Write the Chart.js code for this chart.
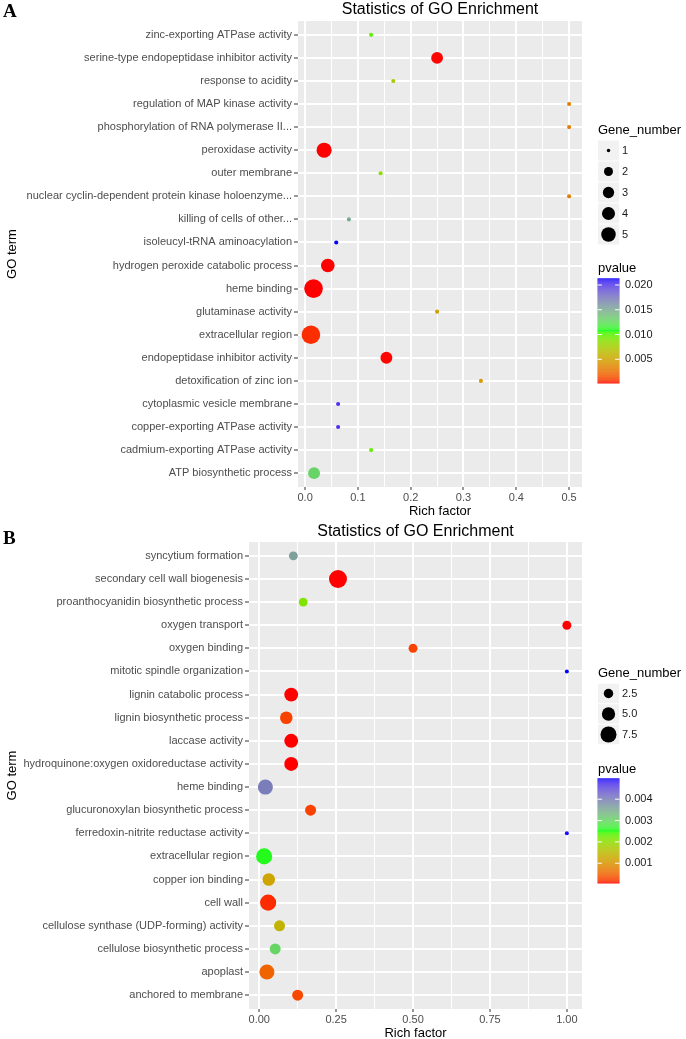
<!DOCTYPE html>
<html>
<head>
<meta charset="utf-8">
<script src="https://cdn.jsdelivr.net/npm/chart.js@4.4.1/dist/chart.umd.min.js"></script>
<style>
html, body { margin: 0; padding: 0; background: #fff; overflow: hidden; }
#wrap { position: relative; width: 686px; height: 1039px; overflow: hidden; }
canvas { position: absolute; left: 0; }
#chartA { top: 0; }
#chartB { top: 510px; }
</style>
</head>
<body>
<div id="wrap">
<canvas id="chartA" width="686" height="520"></canvas>
<canvas id="chartB" width="686" height="532"></canvas>
</div>
<script>
// ---- panel A data (rows listed top to bottom) ----
var termsA = [
    'zinc-exporting ATPase activity',
    'serine-type endopeptidase inhibitor activity',
    'response to acidity',
    'regulation of MAP kinase activity',
    'phosphorylation of RNA polymerase II...',
    'peroxidase activity',
    'outer membrane',
    'nuclear cyclin-dependent protein kinase holoenzyme...',
    'killing of cells of other...',
    'isoleucyl-tRNA aminoacylation',
    'hydrogen peroxide catabolic process',
    'heme binding',
    'glutaminase activity',
    'extracellular region',
    'endopeptidase inhibitor activity',
    'detoxification of zinc ion',
    'cytoplasmic vesicle membrane',
    'copper-exporting ATPase activity',
    'cadmium-exporting ATPase activity',
    'ATP biosynthetic process'
];
var richA = [0.125, 0.25, 0.167, 0.5, 0.5, 0.036, 0.143, 0.5, 0.083, 0.059,
             0.043, 0.016, 0.25, 0.011, 0.154, 0.333, 0.0625, 0.0625, 0.125, 0.017];
var genesA = [1, 3, 1, 1, 1, 5, 1, 1, 1, 1,
              4, 8, 1, 8, 3, 1, 1, 1, 1, 3];
var pvalA = [0.0097, 0.00018, 0.0071, 0.0031, 0.0031, 0.00016, 0.0086, 0.0031, 0.0150, 0.02135,
             0.00016, 0.00016, 0.0049, 0.0006, 0.00018, 0.0044, 0.0203, 0.0203, 0.0097, 0.0129];
var xTicksA = [0, 0.1, 0.2, 0.3, 0.4, 0.5];
var xLabelsA = ['0.0', '0.1', '0.2', '0.3', '0.4', '0.5'];
var sizeBreaksA = [1, 2, 3, 4, 5];
var sizeLabelsA = ['1', '2', '3', '4', '5'];
var pBreaksA = [0.005, 0.010, 0.015, 0.020];
var pLabelsA = ['0.005', '0.010', '0.015', '0.020'];

// ---- panel B data ----
var termsB = [
    'syncytium formation',
    'secondary cell wall biogenesis',
    'proanthocyanidin biosynthetic process',
    'oxygen transport',
    'oxygen binding',
    'mitotic spindle organization',
    'lignin catabolic process',
    'lignin biosynthetic process',
    'laccase activity',
    'hydroquinone:oxygen oxidoreductase activity',
    'heme binding',
    'glucuronoxylan biosynthetic process',
    'ferredoxin-nitrite reductase activity',
    'extracellular region',
    'copper ion binding',
    'cell wall',
    'cellulose synthase (UDP-forming) activity',
    'cellulose biosynthetic process',
    'apoplast',
    'anchored to membrane'
];
var richB = [0.111, 0.256, 0.143, 1.0, 0.5, 1.0, 0.104, 0.088, 0.104, 0.104,
             0.020, 0.167, 1.0, 0.016, 0.031, 0.029, 0.066, 0.052, 0.025, 0.125];
var genesB = [2, 9, 2, 2, 2, 1, 5, 4, 5, 5,
              6, 3, 1, 7, 4, 7, 3, 3, 6, 3];
var pvalB = [0.0036, 0.00006, 0.0021, 0.00006, 0.00025, 0.00498, 0.00006, 0.00025, 0.00006, 0.00006,
             0.0040, 0.00025, 0.00495, 0.00257, 0.0012, 0.00015, 0.0014, 0.0030, 0.0005, 0.0003];
var xTicksB = [0, 0.25, 0.5, 0.75, 1.0];
var xLabelsB = ['0.00', '0.25', '0.50', '0.75', '1.00'];
var sizeBreaksB = [2.5, 5.0, 7.5];
var sizeLabelsB = ['2.5', '5.0', '7.5'];
var pBreaksB = [0.001, 0.002, 0.003, 0.004];
var pLabelsB = ['0.001', '0.002', '0.003', '0.004'];

Chart.defaults.font.family = '"Liberation Sans", Arial, sans-serif';
Chart.defaults.color = '#4D4D4D';
Chart.defaults.animation = false;

var SANS = '"Liberation Sans", Arial, sans-serif';

// red -> green -> blue ramp interpolated in CIELAB, like ggplot's gradientn
function toLin(c) { c /= 255; return c <= 0.04045 ? c / 12.92 : Math.pow((c + 0.055) / 1.055, 2.4); }
function fromLin(c) {
    c = c <= 0.0031308 ? 12.92 * c : 1.055 * Math.pow(Math.max(c, 0), 1 / 2.4) - 0.055;
    return Math.round(Math.max(0, Math.min(1, c)) * 255);
}
function rgbToLab(r, g, b) {
    var R = toLin(r), G = toLin(g), B = toLin(b);
    var X = (R * 0.4124 + G * 0.3576 + B * 0.1805) / 0.95047;
    var Y = R * 0.2126 + G * 0.7152 + B * 0.0722;
    var Z = (R * 0.0193 + G * 0.1192 + B * 0.9505) / 1.08883;
    function f(t) { return t > 0.008856 ? Math.cbrt(t) : 7.787 * t + 16 / 116; }
    var fx = f(X), fy = f(Y), fz = f(Z);
    return [116 * fy - 16, 500 * (fx - fy), 200 * (fy - fz)];
}
function labToRgb(L, a, b) {
    var fy = (L + 16) / 116, fx = fy + a / 500, fz = fy - b / 200;
    function fi(t) { var t3 = t * t * t; return t3 > 0.008856 ? t3 : (t - 16 / 116) / 7.787; }
    var X = fi(fx) * 0.95047, Y = fi(fy), Z = fi(fz) * 1.08883;
    var R = 3.2406 * X - 1.5372 * Y - 0.4986 * Z;
    var G = -0.9689 * X + 1.8758 * Y + 0.0415 * Z;
    var B = 0.0557 * X - 0.2040 * Y + 1.0570 * Z;
    return 'rgb(' + fromLin(R) + ',' + fromLin(G) + ',' + fromLin(B) + ')';
}
var rampStops = [rgbToLab(255, 0, 0), rgbToLab(0, 255, 0), rgbToLab(0, 0, 255)];
function ramp(t) {
    t = Math.max(0, Math.min(1, t));
    var s = t < 0.5 ? 0 : 1;
    var f = t < 0.5 ? t * 2 : (t - 0.5) * 2;
    var a = rampStops[s], b = rampStops[s + 1];
    return labToRgb(a[0] + (b[0] - a[0]) * f, a[1] + (b[1] - a[1]) * f, a[2] + (b[2] - a[2]) * f);
}

function makePanel(canvasId, p) {
    var pMin = Math.min.apply(null, p.pvals), pMax = Math.max.apply(null, p.pvals);
    var colorOf = function (v) { return ramp((v - pMin) / (pMax - pMin)); };
    var radiusOf = function (g) {
        var size = 1 + 5 * Math.sqrt(Math.max(0, (g - p.sizeLo) / (p.sizeHi - p.sizeLo)));
        return (p.k * size + p.c) / 2;
    };
    var xLo = Math.min.apply(null, p.rich), xHi = Math.max.apply(null, p.rich);
    var xPad = (xHi - xLo) * 0.05;
    var minors = [];
    for (var i = 0; i < p.xTicks.length - 1; i++) minors.push((p.xTicks[i] + p.xTicks[i + 1]) / 2);
    var gridVals = p.xTicks.concat(minors);
    var majorIdx = function (v) {
        for (var j = 0; j < p.xTicks.length; j++) if (Math.abs(p.xTicks[j] - v) < 1e-9) return j;
        return -1;
    };

    var panelDecor = {
        id: 'panelDecor',
        beforeDraw: function (chart) {
            var ctx = chart.ctx, ca = chart.chartArea;
            ctx.save();
            ctx.fillStyle = '#EBEBEB';
            ctx.fillRect(ca.left, ca.top, ca.right - ca.left, ca.bottom - ca.top);
            ctx.restore();
        },
        afterDraw: function (chart) {
            var ctx = chart.ctx, ca = chart.chartArea;
            ctx.save();
            ctx.fillStyle = '#000';
            ctx.textAlign = 'center';
            ctx.textBaseline = 'alphabetic';
            ctx.font = '16px ' + SANS;
            ctx.fillText('Statistics of GO Enrichment', (ca.left + ca.right) / 2, p.titleY);

            ctx.textAlign = 'left';
            ctx.font = 'bold 19px "Liberation Serif", "Times New Roman", serif';
            ctx.fillText(p.letter, 3, p.letterY);

            // size legend
            ctx.font = '13px ' + SANS;
            ctx.fillText('Gene_number', 598, p.sizeTitleY);
            p.sizeBreaks.forEach(function (g, i) {
                var cy = p.keyY0 + i * p.keyStep;
                ctx.fillStyle = '#F2F2F2';
                ctx.fillRect(598, cy - p.keyStep / 2 + 0.5, 21, p.keyStep - 1);
                ctx.fillStyle = '#000';
                ctx.beginPath();
                ctx.arc(608.5, cy, radiusOf(g) - 0.3, 0, Math.PI * 2);
                ctx.fill();
                ctx.fillStyle = '#1A1A1A';
                ctx.font = '11px ' + SANS;
                ctx.textBaseline = 'middle';
                ctx.fillText(p.sizeLabels[i], 622, cy);
                ctx.textBaseline = 'alphabetic';
            });

            // colour bar
            ctx.fillStyle = '#000';
            ctx.font = '13px ' + SANS;
            ctx.fillText('pvalue', 598, p.pTitleY);
            var bx = 597.5, bw = 22, bTop = p.barTop, bH = 105;
            for (var y = 0; y < bH; y++) {
                var v = pMax - (y + 0.5) / bH * (pMax - pMin);
                ctx.fillStyle = colorOf(v);
                ctx.fillRect(bx, bTop + y, bw, 1.2);
            }
            ctx.strokeStyle = '#FFFFFF';
            ctx.lineWidth = 1;
            ctx.font = '11px ' + SANS;
            ctx.textBaseline = 'middle';
            p.pBreaks.forEach(function (v, i) {
                var yy = bTop + bH - (v - pMin) / (pMax - pMin) * bH;
                ctx.beginPath();
                ctx.moveTo(bx, yy); ctx.lineTo(bx + 4.4, yy);
                ctx.moveTo(bx + bw - 4.4, yy); ctx.lineTo(bx + bw, yy);
                ctx.stroke();
                ctx.fillStyle = '#1A1A1A';
                ctx.fillText(p.pLabels[i], 625, yy);
            });
            ctx.restore();
        }
    };

    return new Chart(document.getElementById(canvasId), {
        type: 'bubble',
        data: {
            datasets: [{
                data: p.terms.map(function (t, i) {
                    return { x: p.rich[i], y: i, r: radiusOf(p.genes[i]) };
                }),
                backgroundColor: p.pvals.map(colorOf),
                borderWidth: 0,
                hoverBorderWidth: 0
            }]
        },
        options: {
            responsive: false,
            devicePixelRatio: 1,
            events: [],
            layout: { padding: { left: 0, right: 104, top: p.plotTop, bottom: 0 } },
            plugins: { legend: { display: false }, tooltip: { enabled: false } },
            scales: {
                x: {
                    type: 'linear',
                    min: xLo - xPad,
                    max: xHi + xPad,
                    afterBuildTicks: function (s) { s.ticks = gridVals.map(function (v) { return { value: v }; }); },
                    afterFit: function (s) { s.height = p.xAxisH; },
                    ticks: {
                        autoSkip: false, maxRotation: 0, padding: 1,
                        color: '#4D4D4D', font: { size: 11 },
                        callback: function (v) { var j = majorIdx(v); return j < 0 ? '' : p.xLabels[j]; }
                    },
                    grid: {
                        color: '#FFFFFF',
                        lineWidth: function (c) { return c.tick && majorIdx(c.tick.value) >= 0 ? 2 : 1; },
                        tickColor: function (c) { return c.tick && majorIdx(c.tick.value) >= 0 ? '#333333' : 'rgba(0,0,0,0)'; },
                        tickLength: 3,
                        tickWidth: 1
                    },
                    border: { display: false },
                    title: { display: true, text: 'Rich factor', color: '#000', font: { size: 13 }, padding: { top: 0, bottom: 1 } }
                },
                y: {
                    type: 'linear',
                    reverse: true,
                    min: -0.6,
                    max: p.terms.length - 0.4,
                    afterBuildTicks: function (s) { s.ticks = p.terms.map(function (t, i) { return { value: i }; }); },
                    afterFit: function (s) { s.width = p.plotLeft; },
                    ticks: {
                        autoSkip: false, padding: 2,
                        color: '#4D4D4D', font: { size: 11 },
                        callback: function (v) { return p.terms[v]; }
                    },
                    grid: { color: '#FFFFFF', lineWidth: 2, tickColor: '#333333', tickLength: 4, tickWidth: 1 },
                    border: { display: false },
                    title: { display: true, text: 'GO term', color: '#000', font: { size: 13 }, padding: { top: 5, bottom: 0 } }
                }
            }
        },
        plugins: [panelDecor]
    });
}

makePanel('chartA', {
    terms: termsA, rich: richA, genes: genesA, pvals: pvalA,
    xTicks: xTicksA, xLabels: xLabelsA,
    sizeBreaks: sizeBreaksA, sizeLabels: sizeLabelsA, sizeLo: 1, sizeHi: 5, k: 2.2, c: 1.9,
    pBreaks: pBreaksA, pLabels: pLabelsA,
    letter: 'A', letterY: 17, titleY: 14,
    plotLeft: 298, plotTop: 21, xAxisH: 33,
    sizeTitleY: 134, keyY0: 150.5, keyStep: 21,
    pTitleY: 272, barTop: 278.3
});

makePanel('chartB', {
    terms: termsB, rich: richB, genes: genesB, pvals: pvalB,
    xTicks: xTicksB, xLabels: xLabelsB,
    sizeBreaks: sizeBreaksB, sizeLabels: sizeLabelsB, sizeLo: 1, sizeHi: 9, k: 2.8, c: 1.2,
    pBreaks: pBreaksB, pLabels: pLabelsB,
    letter: 'B', letterY: 33.5, titleY: 25.5,
    plotLeft: 249, plotTop: 32, xAxisH: 33,
    sizeTitleY: 166.7, keyY0: 183.5, keyStep: 20.5,
    pTitleY: 263.3, barTop: 268.3
});
</script>
</body>
</html>
